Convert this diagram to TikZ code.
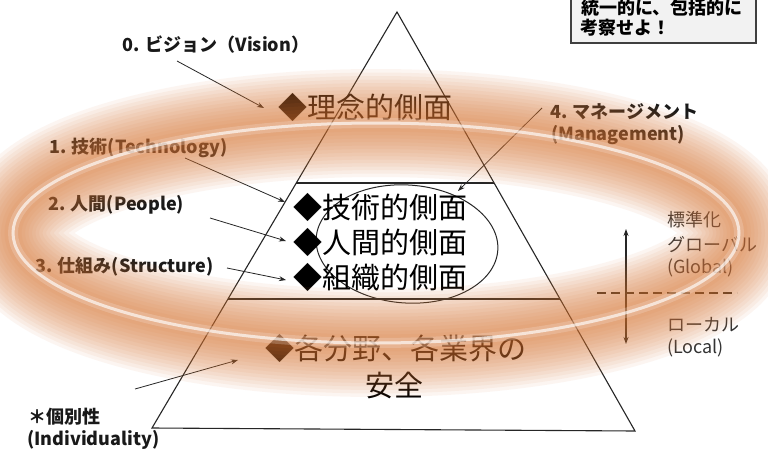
\documentclass[tikz,border=0pt]{standalone}
\usepackage{fontspec}
\setmainfont{Noto Sans CJK JP}
\usetikzlibrary{arrows.meta}
\definecolor{ringc}{RGB}{218,118,52}
\tikzset{
  lab/.style={font=\fontsize{18}{20}\selectfont\bfseries, inner sep=0pt, text=black!90},
  big/.style={font=\fontsize{29}{32}\selectfont, inner sep=0pt},
  side/.style={font=\fontsize{18}{20}\selectfont, inner sep=0pt, text=black!80, anchor=west},
  arr/.style={-{Stealth[length=7pt,width=5pt]}, line width=0.8pt, black!85},
}
\begin{document}
\begin{tikzpicture}[x=1pt,y=-1pt]
\useasboundingbox (0,0) rectangle (768,455);
\fill[white] (0,0) rectangle (768,455);

% memo box
\node[draw=black!75, line width=1.6pt, fill=black!5, minimum width=185pt, minimum height=56pt,
      anchor=south west, inner sep=0pt] (memo) at (570,44) {};
\node[lab, text=black] (m1) at (662,8) {統一的に、包括的に};
\node[lab, text=black, anchor=west] (m2) at (580,28) {考察せよ\textit{！}};

% triangle
\coordinate (apex) at (397,12);
\coordinate (bl) at (152,428);
\coordinate (br) at (635,431);
\draw[line width=1.1pt, black!85] (apex) -- (bl) -- (br) -- cycle;
\coordinate (l1) at (296,183);
\coordinate (r1) at (494,183);
\coordinate (l2) at (228,299);
\coordinate (r2) at (560,299);
\draw[line width=1.1pt, black!85] (l1) -- (r1);
\draw[line width=1.1pt, black!85] (l2) -- (r2);

% inner ellipse
\draw[line width=1pt, black!85, rotate around={-4:(407,244)}] (407,244) ellipse [x radius=91, y radius=59];

% big texts
\node[big] (t0) at (365,107) {◆理念的側面};
\node[big] (t1) at (380,207) {◆技術的側面};
\node[big] (t2) at (380,242) {◆人間的側面};
\node[big] (t3) at (380,277) {◆組織的側面};
\node[big] (t4) at (396,348) {◆各分野、各業界の};
\node[big] (t5) at (394,385) {安全};

% labels
\node[lab] (v0) at (216,45) {0. ビジョン（Vision）};
\node[lab, anchor=west] (v1) at (49,148) {1. 技術(Technology)};
\node[lab, anchor=west] (v2) at (48,205) {2. 人間(People)};
\node[lab, anchor=west] (v3) at (35,267) {3. 仕組み(Structure)};
\node[lab, anchor=west] (v4) at (550,112) {4. マネージメント};
\node[lab, anchor=west] (v4b) at (551,135) {(Management)};
\node[lab, anchor=west] (iv) at (28,417) {＊個別性};
\node[lab, anchor=west] (iv2) at (27,440) {(Individuality)};

% right side
\node[side] (s1) at (667,220) {標準化};
\node[side] (s2) at (667,245) {グローバル};
\node[side] (s3) at (667,268) {(Global)};
\node[side] (s4) at (667,325) {ローカル};
\node[side] (s5) at (667,348) {(Local)};
\coordinate (dl) at (597,293);
\coordinate (dr) at (737,293);
\draw[line width=2pt, black!85, dash pattern=on 9pt off 5pt] (dl) -- (dr);
\coordinate (gt) at (626,229);
\coordinate (gb) at (626,344);
\draw[{Stealth[length=7pt,width=5pt]}-{Stealth[length=7pt,width=5pt]}, line width=1.1pt, black!85] (gt) -- (gb);

% arrows
\coordinate (a0s) at (177,61);  \coordinate (a0e) at (264,108);
\coordinate (a1s) at (185,158); \coordinate (a1e) at (285,202);
\coordinate (a2s) at (210,218); \coordinate (a2e) at (286,241);
\coordinate (a3s) at (227,268); \coordinate (a3e) at (286,280);
\coordinate (a4s) at (542,108); \coordinate (a4e) at (458,191);
\coordinate (a5s) at (135,389); \coordinate (a5e) at (238,360);
\draw[arr] (a0s) -- (a0e);
\draw[arr] (a1s) -- (a1e);
\draw[arr] (a2s) -- (a2e);
\draw[arr] (a3s) -- (a3e);
\draw[arr] (a4s) -- (a4e);
\draw[arr] (a5s) -- (a5e);

% orange glowing ring (on top)
\coordinate (rc) at (376,233);
\begin{scope}
\foreach \w in {108,101,...,10}{
  \draw[ringc, line width=\w pt, opacity=0.065] (rc) ellipse [x radius=363, y radius=110];
}
\draw[white, line width=10pt, opacity=0.2] (rc) ellipse [x radius=363, y radius=110];
\draw[white, line width=3pt, opacity=0.65] (rc) ellipse [x radius=363, y radius=110];
\end{scope}
\end{tikzpicture}
\end{document}
